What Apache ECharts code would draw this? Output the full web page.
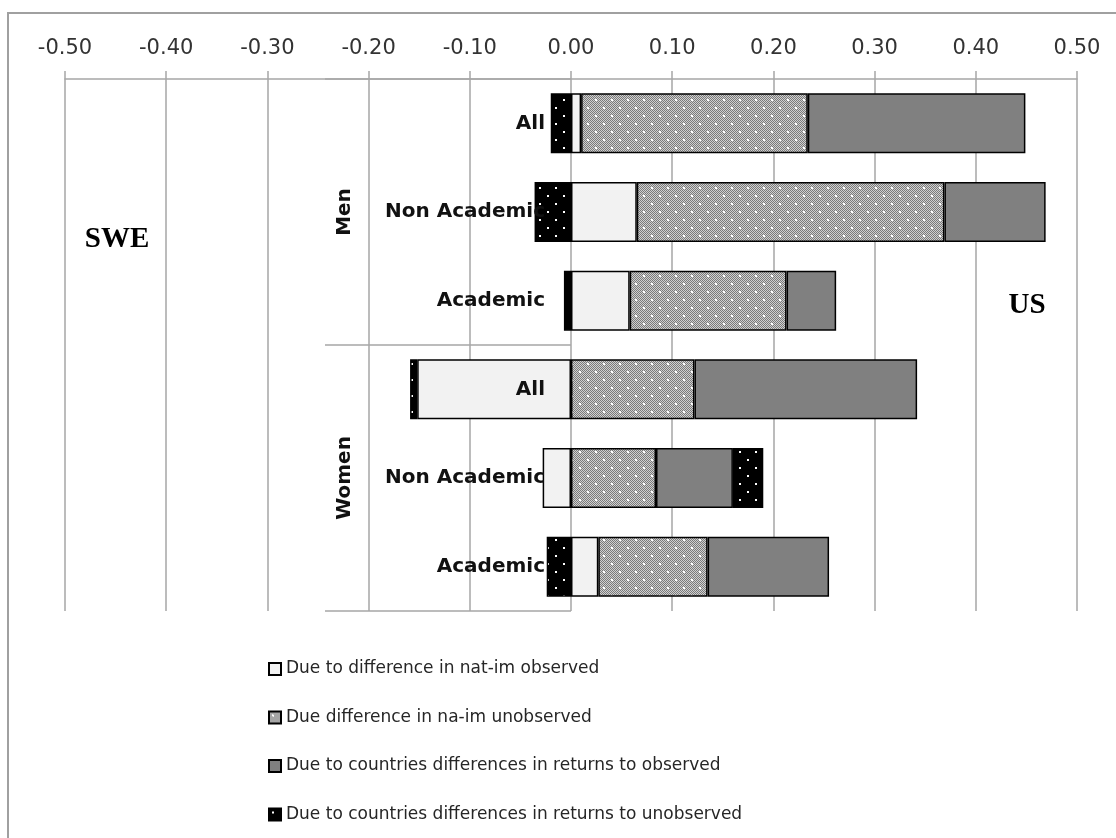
<!DOCTYPE html>
<html><head><meta charset="utf-8">
<script src="https://cdn.jsdelivr.net/npm/echarts@6/dist/echarts.min.js"></script>
<style>html,body{margin:0;padding:0;background:#fff}#c{width:1116px;height:838px}</style>
</head><body><div id="c"></div>
<script>
// ---- data ----
const groups = ['Men', 'Women'];
const subCategories = ['All', 'Non Academic', 'Academic'];
const seriesNames = [
  'Due to difference in nat-im observed',
  'Due difference in na-im unobserved',
  'Due to countries differences in returns to observed',
  'Due to countries differences in returns to unobserved'
];
const natImObserved     = [0.010, 0.065, 0.058, -0.152, -0.028, 0.027];
const naImUnobserved    = [0.224, 0.304, 0.155, 0.122, 0.084, 0.108];
const returnsObserved   = [0.215, 0.100, 0.049, 0.220, 0.076, 0.120];
const returnsUnobserved = [-0.020, -0.036, -0.007, -0.007, 0.030, -0.024];
const xMin = -0.5, xMax = 0.5, xInterval = 0.1;
const sideLabels = ['SWE', 'US'];

// ---- layout / style ----
const W = 1116, H = 838;
const G = {left: 65, right: 39, top: 79, bottom: 227};
const plotW = W - G.left - G.right;
const zeroX = G.left + plotW * (0 - xMin) / (xMax - xMin);
const gridColor = '#a6a6a6';

function makePattern(bg, checker) {
  const c = document.createElement('canvas');
  c.width = 16; c.height = 16;
  const ctx = c.getContext('2d');
  ctx.fillStyle = bg; ctx.fillRect(0, 0, 16, 16);
  if (checker) {
    ctx.fillStyle = checker;
    for (let y = 0; y < 16; y++) for (let x = 0; x < 16; x++) if ((x + y) % 2) ctx.fillRect(x, y, 1, 1);
  }
  ctx.fillStyle = '#ffffff';
  ctx.fillRect(3, 3, 2, 2);
  ctx.fillRect(11, 11, 2, 2);
  return c;
}
const hatch = makePattern('#7a7a7a', '#d0d0d0');
const dots = makePattern('#000000', null);

const catData = [];
groups.forEach(g => subCategories.forEach(s => catData.push(g + '|' + s)));

const seriesValues = [natImObserved, naImUnobserved, returnsObserved, returnsUnobserved];
const fills = ['#f2f2f2', {image: hatch, repeat: 'repeat'}, '#808080', {image: dots, repeat: 'repeat'}];

const chart = echarts.init(document.getElementById('c'), null, {renderer: 'canvas'});
chart.setOption({
  backgroundColor: '#ffffff',
  animation: false,
  grid: {left: G.left, right: G.right, top: G.top, bottom: G.bottom, containLabel: false, outerBoundsMode: 'none'},
  legend: {
    orient: 'vertical', left: 263, top: 654, itemGap: 28.5,
    itemWidth: 12, itemHeight: 12, icon: 'rect',
    textStyle: {fontFamily: 'DejaVu Sans', fontSize: 17, color: '#262626', lineHeight: 20},
    data: seriesNames
  },
  xAxis: {
    type: 'value', position: 'top', min: xMin, max: xMax, interval: xInterval,
    axisLine: {show: true, lineStyle: {color: gridColor, width: 1.5}},
    axisTick: {show: true, length: 8, lineStyle: {color: gridColor, width: 1.5}},
    axisLabel: {
      fontFamily: 'DejaVu Sans', fontSize: 21, color: '#333333', margin: 20,
      formatter: v => (Math.abs(v) < 1e-9 ? 0 : v).toFixed(2)
    },
    splitLine: {show: true, lineStyle: {color: gridColor, width: 1.5}}
  },
  yAxis: [
    {
      type: 'category', data: catData, inverse: true, position: 'left', z: 3,
      offset: -(zeroX - G.left),
      axisLine: {show: false, onZero: false},
      axisTick: {show: false},
      axisLabel: {
        fontFamily: 'DejaVu Sans', fontWeight: 'bold', fontSize: 20, color: '#111111', margin: 26,
        formatter: v => v.split('|')[1]
      },
      splitLine: {show: false}
    },
    {
      type: 'category', data: groups, inverse: true, position: 'left',
      offset: -(zeroX - G.left),
      axisLine: {show: false, onZero: false},
      axisTick: {show: true, length: 246, interval: 0, lineStyle: {color: gridColor, width: 1.5}},
      axisLabel: {
        fontFamily: 'DejaVu Sans', fontWeight: 'bold', fontSize: 20, color: '#111111',
        rotate: 90, margin: 216
      },
      splitLine: {show: false}
    }
  ],
  series: seriesNames.map((name, i) => ({
    name, type: 'bar', stack: 'total', yAxisIndex: 0, barWidth: 60,
    itemStyle: {color: fills[i], borderColor: '#000000', borderWidth: 1.5},
    data: seriesValues[i]
  })),
  graphic: [
    {type: 'rect', z: 100, silent: true, shape: {x: 8, y: 13, width: 1200, height: 900},
     style: {fill: null, stroke: '#a0a0a0', lineWidth: 2}},
    {type: 'text', x: 117, y: 240, silent: true,
     style: {text: sideLabels[0], font: 'bold 29px "Liberation Serif"', fill: '#000', align: 'center', verticalAlign: 'middle'}},
    {type: 'text', x: 1027, y: 306, silent: true,
     style: {text: sideLabels[1], font: 'bold 29px "Liberation Serif"', fill: '#000', align: 'center', verticalAlign: 'middle'}}
  ]
});
</script>
</body></html>
